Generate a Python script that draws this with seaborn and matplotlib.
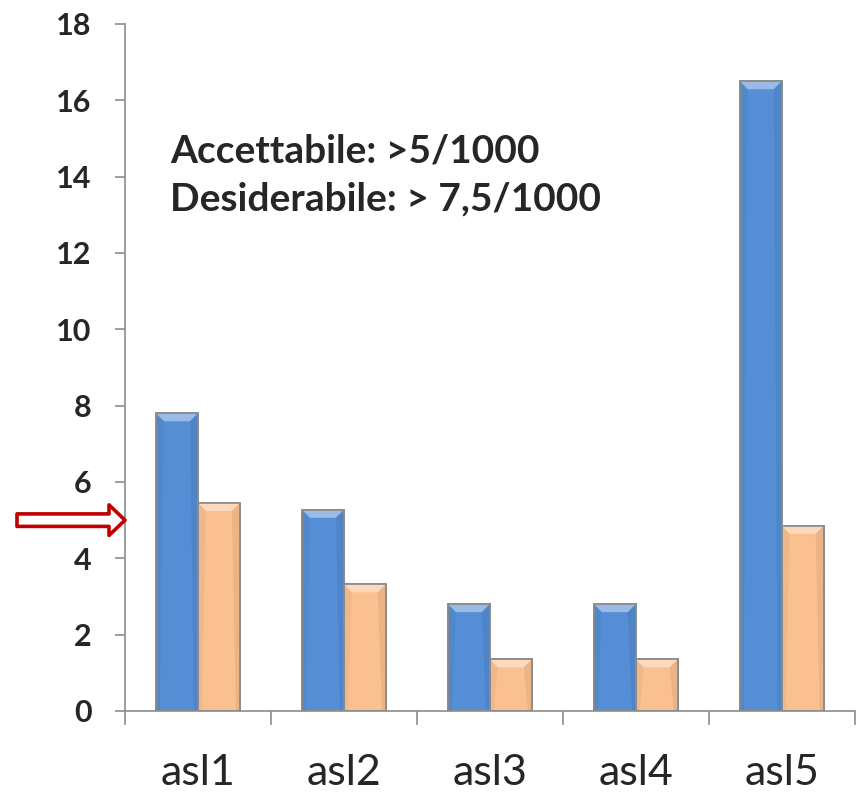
import matplotlib
matplotlib.use("Agg")
import matplotlib.pyplot as plt
from matplotlib.patches import Polygon
import matplotlib.colors as mcolors
import seaborn as sns
import pandas as pd

# Data
categories = ["asl1", "asl2", "asl3", "asl4", "asl5"]
serie_a = [7.8, 5.27, 2.8, 2.8, 16.5]
serie_b = [5.45, 3.32, 1.35, 1.35, 4.85]
series_names = ["A", "B"]
y_ticks = [0, 2, 4, 6, 8, 10, 12, 14, 16, 18]
soglia = 5

df = pd.DataFrame({
    "cat": categories * 2,
    "val": serie_a + serie_b,
    "serie": [series_names[0]] * len(categories) + [series_names[1]] * len(categories),
})

sns.set_style("white")
plt.rcParams["font.family"] = ["Lato", "DejaVu Sans"]

fig = plt.figure(figsize=(8.59, 7.92), dpi=100)
ax = fig.add_axes([0.1455, 0.1023, 0.8495, 0.8674])

sns.barplot(data=df, x="cat", y="val", hue="serie", order=categories,
            hue_order=series_names, palette=["#558ED5", "#FAC090"],
            width=0.575, gap=0, edgecolor="#8a8a8a", linewidth=1.2,
            saturation=1, legend=False, ax=ax, errorbar=None)

ax.set_xlim(-0.5, len(categories) - 0.5)
ax.set_ylim(0, 18)

# bevelled look: lighter cap and shaded sides on each bar
px_x = 1.0 / 146.0
px_y = 1.0 / 38.17
bx, by = 8 * px_x, 8 * px_y
for p in list(ax.patches):
    x0, y0 = p.get_x(), p.get_y()
    w, h = p.get_width(), p.get_height()
    x1, y1 = x0 + w, y0 + h
    base = mcolors.to_rgb(p.get_facecolor())
    light = tuple(c + (1 - c) * 0.4 for c in base)
    dark = tuple(c * 0.85 for c in base)
    ax.add_patch(Polygon([(x0, y1), (x1, y1), (x1 - bx, y1 - by), (x0 + bx, y1 - by)],
                         closed=True, fc=light, ec="none", zorder=p.get_zorder() + 0.1))
    ax.add_patch(Polygon([(x1, y1), (x1, y0), (x1 - bx * 0.5, y0), (x1 - bx, y1 - by)],
                         closed=True, fc=dark, ec="none", alpha=0.4, zorder=p.get_zorder() + 0.1))
    ax.add_patch(Polygon([(x0, y1), (x0, y0), (x0 + bx * 0.5, y0), (x0 + bx, y1 - by)],
                         closed=True, fc=dark, ec="none", alpha=0.25, zorder=p.get_zorder() + 0.1))
    ax.add_patch(Polygon([(x0, y0), (x0, y1), (x1, y1), (x1, y0)], closed=True,
                         fc="none", ec="#8a8a8a", lw=1.2, zorder=p.get_zorder() + 0.2))

ax.set_yticks(y_ticks)
ax.set_yticklabels([str(t) for t in y_ticks], fontsize=22, fontweight="bold")
ax.set_xlabel("")
ax.set_ylabel("")

# category boundary ticks on the x axis
ax.set_xticks([i - 0.5 for i in range(len(categories) + 1)])
ax.set_xticklabels([])
ax.tick_params(axis="x", bottom=True, length=10, width=1.2, color="#8c8c8c", direction="out")
ax.tick_params(axis="y", left=True, length=7, width=1.2, color="#8c8c8c", direction="out", pad=17)
for i, c in enumerate(categories):
    ax.text(i, -1.94, c, ha="center", va="baseline", fontsize=31)

for side in ["top", "right"]:
    ax.spines[side].set_visible(False)
for side in ["left", "bottom"]:
    ax.spines[side].set_color("#8c8c8c")
    ax.spines[side].set_linewidth(1.2)

ax.text(0.0616, 0.799, "Accettabile: >5/1000", transform=ax.transAxes,
        fontsize=28, fontweight="bold", va="baseline")
ax.text(0.0616, 0.729, "Desiderabile: > 7,5/1000", transform=ax.transAxes,
        fontsize=28, fontweight="bold", va="baseline")

# arrow marking the acceptability threshold
ax.annotate("", xy=(0.0, soglia), xycoords=("axes fraction", "data"),
            xytext=(-0.148, soglia), textcoords=("axes fraction", "data"),
            arrowprops=dict(arrowstyle="simple,head_length=1.15,head_width=2.2,tail_width=0.9",
                            fc="white", ec="#C00000", lw=2.6, shrinkA=0, shrinkB=0),
            annotation_clip=False)

fig.savefig("out.png", dpi=100)
